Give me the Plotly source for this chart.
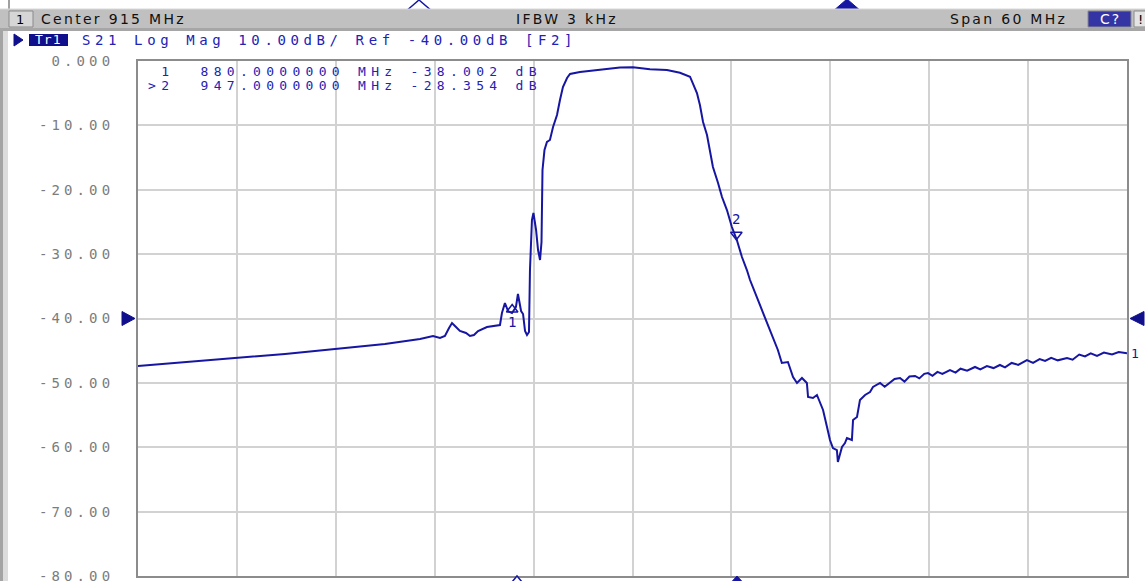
import plotly.graph_objects as go

# ---------------- data ----------------
freq_mhz = [
    885.00, 887.97, 890.95, 893.92, 896.95, 899.98, 902.11, 902.90, 903.32, 903.62,
    903.87, 904.05, 904.23, 904.53, 904.90, 905.14, 905.38, 905.63, 906.17, 906.96,
    907.08, 907.26, 907.45, 907.69, 907.93, 908.05, 908.24, 908.36, 908.48, 908.60,
    908.72, 908.78, 908.90, 908.99, 909.15, 909.27, 909.39, 909.48, 909.54, 909.66,
    909.81, 909.99, 910.18, 910.42, 910.60, 910.78, 911.03, 911.21, 911.81, 913.03,
    914.24, 915.03, 916.06, 917.09, 917.88, 918.49, 918.67, 918.91, 919.09, 919.28,
    919.52, 919.70, 919.88, 920.19, 920.43, 920.73, 921.03, 921.33, 921.64, 921.94,
    922.13, 922.73, 923.34, 923.82, 924.06, 924.43, 924.74, 924.98, 925.28, 925.58,
    925.65, 925.95, 926.19, 926.37, 926.56, 926.80, 926.98, 927.16, 927.40, 927.46,
    927.71, 927.89, 928.01, 928.31, 928.38, 928.62, 928.80, 929.11, 929.41, 929.59,
    930.02, 930.30, 930.62, 930.90, 931.23, 931.50, 931.80, 932.14, 932.40, 932.70,
    932.93, 933.20, 933.50, 933.80, 934.26, 934.60, 934.90, 935.30, 935.78, 936.10,
    936.50, 936.90, 937.29, 937.60, 938.00, 938.40, 938.93, 939.30, 939.70, 940.03,
    940.40, 940.80, 941.36, 941.70, 942.10, 942.45, 942.80, 943.18, 943.60, 944.09,
    944.50, 945.00,
]
s21_db = [
    -47.38, -46.76, -46.14, -45.51, -44.74, -43.96, -43.18, -42.72, -43.03, -42.72,
    -41.48, -40.70, -41.17, -41.94, -42.25, -42.72, -42.56, -41.94, -41.32, -41.01,
    -39.15, -37.59, -38.84, -39.15, -38.21, -36.19, -38.84, -39.30, -41.94, -42.56,
    -42.10, -32.47, -24.70, -23.61, -26.25, -29.36, -30.91, -28.12, -16.93, -13.83,
    -12.58, -12.27, -10.25, -8.39, -6.06, -4.04, -2.64, -2.02, -1.71, -1.32,
    -1.01, -0.98, -1.29, -1.40, -1.82, -2.44, -3.42, -4.97, -6.83, -9.48,
    -11.50, -13.83, -16.47, -18.95, -21.13, -23.15, -25.79, -27.81, -30.45, -32.47,
    -34.02, -37.90, -41.79, -44.89, -46.91, -46.76, -49.09, -50.02, -49.24, -50.02,
    -52.19, -52.35, -51.88, -52.97, -54.21, -56.85, -58.87, -60.12, -60.43, -62.29,
    -59.96, -59.34, -58.56, -58.87, -55.77, -55.30, -52.66, -51.88, -51.42, -50.64,
    -50.02, -50.60, -50.02, -49.40, -49.24, -49.80, -49.00, -48.93, -49.30, -48.60,
    -48.47, -48.90, -48.30, -48.60, -48.00, -48.40, -47.80, -48.10, -47.53, -47.90,
    -47.40, -47.70, -47.22, -47.60, -46.90, -47.20, -46.45, -46.90, -46.30, -46.60,
    -46.10, -46.50, -46.14, -46.40, -45.60, -45.90, -45.40, -45.80, -45.30, -45.60,
    -45.20, -45.40,
]

center_mhz = 915
span_mhz = 60
ref_level_db = -40
scale_db_div = 10
y_ticks = [0, -10, -20, -30, -40, -50, -60, -70, -80]
y_tick_labels = ["0.000", "-10.00", "-20.00", "-30.00", "-40.00",
                 "-50.00", "-60.00", "-70.00", "-80.00"]

marker_names = ["1", "2"]
marker_freq = [907.7, 921.3]
marker_db = [-38.6, -27.0]
marker_readout = [" 1  880.0000000 MHz -38.002 dB",
                  ">2  947.0000000 MHz -28.354 dB"]

header_left = "Center 915 MHz"
header_mid = "IFBW 3 kHz"
header_right = "Span 60 MHz"
trace_title = "S21 Log Mag 10.00dB/ Ref -40.00dB [F2]"

# ---------------- geometry helpers (pixel -> paper) ----------------
W, H = 1145, 581
L, R, T, B = 138, 1127, 61, 576


def px(x):
    return (x - L) / (R - L)


def py(y):
    return (B - y) / (B - T)


x_min = center_mhz - span_mhz / 2
x_max = center_mhz + span_mhz / 2
y_min = ref_level_db - 4 * scale_db_div
y_max = ref_level_db + 4 * scale_db_div

TRACE = "#1616a2"
MONO = "DejaVu Sans Mono"
SANS = "DejaVu Sans"


def ls(text, sp):
    return f'<span style="letter-spacing:{sp}px">{text}</span>'


fig = go.Figure()

fig.add_trace(go.Scatter(
    x=freq_mhz, y=s21_db, mode="lines",
    line=dict(color=TRACE, width=2),
    hoverinfo="skip", showlegend=False,
))

# markers on the trace
fig.add_trace(go.Scatter(
    x=[marker_freq[0]], y=[marker_db[0]], mode="markers+text",
    marker=dict(symbol="triangle-up-open", size=10, color=TRACE,
                line=dict(width=1.5, color=TRACE)),
    text=[marker_names[0]], textposition="bottom center",
    textfont=dict(family=MONO, size=14, color=TRACE),
    cliponaxis=False, showlegend=False, hoverinfo="skip",
))
fig.add_trace(go.Scatter(
    x=[marker_freq[1]], y=[marker_db[1]], mode="markers+text",
    marker=dict(symbol="triangle-down-open", size=10, color=TRACE,
                line=dict(width=1.5, color=TRACE)),
    text=[marker_names[1]], textposition="top center",
    textfont=dict(family=MONO, size=14, color=TRACE),
    cliponaxis=False, showlegend=False, hoverinfo="skip",
))

shapes = []
annotations = []

# left window edge
shapes.append(dict(type="rect", xref="paper", yref="paper",
                   x0=px(0), x1=px(3), y0=py(581), y1=py(30),
                   fillcolor="#a4a4a4", line=dict(width=0), layer="above"))
shapes.append(dict(type="rect", xref="paper", yref="paper",
                   x0=px(3), x1=px(8), y0=py(581), y1=py(30),
                   fillcolor="#dcdcdc", line=dict(width=0), layer="above"))
shapes.append(dict(type="line", xref="paper", yref="paper",
                   x0=px(9), x1=px(9), y0=py(9), y1=py(0),
                   line=dict(color="#a0a0a0", width=2), layer="above"))

# partial marker triangles at the top edge
shapes.append(dict(type="path", xref="paper", yref="paper",
                   path=f"M {px(405)},{py(12)} L {px(419)},{py(0)} L {px(433)},{py(12)} Z",
                   fillcolor="white", line=dict(color=TRACE, width=1.5), layer="above"))
shapes.append(dict(type="path", xref="paper", yref="paper",
                   path=f"M {px(832)},{py(12)} L {px(847)},{py(-1)} L {px(862)},{py(12)} Z",
                   fillcolor=TRACE, line=dict(color=TRACE, width=1), layer="above"))

# status bar
shapes.append(dict(type="rect", xref="paper", yref="paper",
                   x0=px(0), x1=px(W), y0=py(28), y1=py(9),
                   fillcolor="#c0c0c0", line=dict(width=0), layer="above"))
shapes.append(dict(type="line", xref="paper", yref="paper",
                   x0=px(0), x1=px(W), y0=py(9), y1=py(9),
                   line=dict(color="#d8d8d8", width=1), layer="above"))
shapes.append(dict(type="rect", xref="paper", yref="paper",
                   x0=px(0), x1=px(W), y0=py(31), y1=py(28),
                   fillcolor="#a6a6a6", line=dict(width=0), layer="above"))
shapes.append(dict(type="rect", xref="paper", yref="paper",
                   x0=px(9), x1=px(33), y0=py(27), y1=py(11),
                   fillcolor="#d6d6d6", line=dict(color="#8a8a8a", width=1), layer="above"))
shapes.append(dict(type="rect", xref="paper", yref="paper",
                   x0=px(1088), x1=px(1131), y0=py(27), y1=py(11),
                   fillcolor="#3434a4", line=dict(color="#8a8a8a", width=1), layer="above"))
shapes.append(dict(type="rect", xref="paper", yref="paper",
                   x0=px(1134), x1=px(1150), y0=py(27), y1=py(11),
                   fillcolor="#e4e4e4", line=dict(color="#8a8a8a", width=1), layer="above"))

# trace title line
shapes.append(dict(type="path", xref="paper", yref="paper",
                   path=f"M {px(14)},{py(34)} L {px(23)},{py(40)} L {px(14)},{py(46)} Z",
                   fillcolor="#10108c", line=dict(color="#10108c", width=1), layer="above"))
shapes.append(dict(type="rect", xref="paper", yref="paper",
                   x0=px(29), x1=px(68), y0=py(46), y1=py(34),
                   fillcolor="#10108c", line=dict(width=0), layer="above"))

# reference level triangles
ref_p = (ref_level_db - y_min) / (y_max - y_min)
dy = 7 / (B - T)
shapes.append(dict(type="path", xref="paper", yref="paper",
                   path=f"M {px(122)},{ref_p + dy} L {px(135)},{ref_p} L {px(122)},{ref_p - dy} Z",
                   fillcolor="#10108c", line=dict(color="#10108c", width=1), layer="above"))
shapes.append(dict(type="path", xref="paper", yref="paper",
                   path=f"M {px(1144)},{ref_p + dy} L {px(1130)},{ref_p} L {px(1144)},{ref_p - dy} Z",
                   fillcolor="#10108c", line=dict(color="#10108c", width=1), layer="above"))

# partial marker triangles at the bottom edge
shapes.append(dict(type="path", xref="paper", yref="paper",
                   path=f"M {px(507)},{py(588)} L {px(517)},{py(576)} L {px(527)},{py(588)} Z",
                   fillcolor="white", line=dict(color=TRACE, width=1.5), layer="above"))
shapes.append(dict(type="path", xref="paper", yref="paper",
                   path=f"M {px(726)},{py(588)} L {px(737)},{py(576)} L {px(748)},{py(588)} Z",
                   fillcolor=TRACE, line=dict(color=TRACE, width=1), layer="above"))


def add_text(text, x, y, size, color, family, anchor="left", sp=0):
    annotations.append(dict(
        text=ls(text, sp) if sp else text, x=px(x), y=py(y),
        xref="paper", yref="paper", xanchor=anchor, yanchor="middle",
        showarrow=False, font=dict(family=family, size=size, color=color),
        borderpad=0,
    ))


add_text("1", 15, 19, 13, "#000000", SANS)
add_text(header_left, 40, 19, 14, "#101010", SANS, sp=2.3)
add_text(header_mid, 567, 19, 14, "#101010", SANS, anchor="center", sp=2.3)
add_text(header_right, 949, 19, 14, "#101010", SANS, sp=2.3)
add_text("C?", 1110, 19, 14, "#ffffff", SANS, anchor="center", sp=2)
add_text("!", 1137, 19, 13, "#000000", SANS)
add_text("Tr1", 48, 40, 13, "#ffffff", MONO, anchor="center", sp=1)
add_text(trace_title, 81, 40, 14, "#2222b4", MONO, sp=4.6)
add_text(marker_readout[0], 147, 71.5, 13, "#2222b4", MONO, sp=5.3)
add_text(marker_readout[1], 147, 85.5, 13, "#2222b4", MONO, sp=5.3)

# trace end label
annotations.append(dict(
    text="1", x=freq_mhz[-1], y=s21_db[-1], xref="x", yref="y",
    xanchor="left", yanchor="middle", xshift=2, showarrow=False,
    font=dict(family=MONO, size=13, color=TRACE),
))

fig.update_layout(
    width=W, height=H,
    margin=dict(l=L, r=W - R, t=T, b=H - B, pad=0, autoexpand=False),
    paper_bgcolor="white", plot_bgcolor="white",
    showlegend=False,
    shapes=shapes, annotations=annotations,
    xaxis=dict(
        range=[x_min, x_max], tick0=x_min, dtick=span_mhz / 10,
        showticklabels=False, ticks="", automargin=False,
        showgrid=True, gridcolor="#d2d2d2", gridwidth=2,
        zeroline=False, showline=True, mirror=True,
        linecolor="#8c8c8c", linewidth=2,
        fixedrange=True,
    ),
    yaxis=dict(
        range=[y_min, y_max],
        tickvals=y_ticks, ticktext=[ls(t, 4.1) for t in y_tick_labels],
        tickfont=dict(family=MONO, size=14, color="#7c7c7c"),
        ticks="", ticklabelstandoff=19, ticklabeloverflow="allow",
        automargin=False,
        showgrid=True, gridcolor="#d2d2d2", gridwidth=2,
        zeroline=False, showline=True, mirror=True,
        linecolor="#8c8c8c", linewidth=2,
        fixedrange=True,
    ),
)

fig.write_html(
    "out.html",
    config={"displayModeBar": False},
    post_script="document.body.style.margin='0px';document.body.style.overflow='hidden';",
)
